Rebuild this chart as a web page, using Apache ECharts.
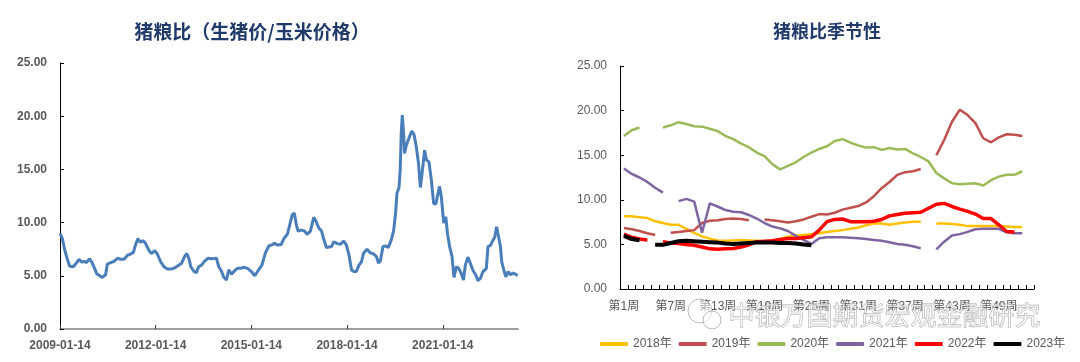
<!DOCTYPE html>
<html>
<head>
<meta charset="utf-8">
<script src="https://cdn.jsdelivr.net/npm/echarts@6/dist/echarts.min.js"></script>
<style>
html,body{margin:0;padding:0;background:#fff;}
#main{width:1080px;height:362px;}
</style>
</head>
<body>
<div id="main"></div>
<script>
// ---------- Left chart: 猪粮比 history ----------
const ratioDates = ['2009-01-14','2009-02-10','2009-03-10','2009-04-10','2009-05-05','2009-06-15','2009-07-20','2009-08-20','2009-09-18','2009-10-18','2009-11-15','2009-12-15',
'2010-01-12','2010-02-14','2010-03-10','2010-04-15','2010-05-13','2010-06-04','2010-06-20','2010-07-10','2010-08-20','2010-09-25','2010-11-03','2010-12-10',
'2011-01-18','2011-02-28','2011-04-04','2011-05-05','2011-05-28','2011-06-26','2011-07-20','2011-08-25','2011-09-20','2011-10-28','2011-11-26',
'2012-01-05','2012-02-03','2012-03-12','2012-04-20','2012-05-27','2012-07-14','2012-08-20','2012-09-25','2012-11-04','2012-12-10',
'2013-01-05','2013-01-28','2013-02-20','2013-03-30','2013-04-25','2013-05-20','2013-06-22','2013-07-30','2013-09-06','2013-10-20','2013-12-10',
'2014-01-06','2014-02-05','2014-03-02','2014-04-03','2014-04-30','2014-06-01','2014-07-08','2014-08-08','2014-09-15','2014-10-20','2014-12-01',
'2015-01-14','2015-02-22','2015-04-06','2015-05-15','2015-06-22','2015-08-01','2015-09-06','2015-10-07','2015-11-08','2015-12-22',
'2016-01-22','2016-03-01','2016-03-27','2016-04-25','2016-05-20','2016-06-12','2016-07-01','2016-08-10','2016-09-15','2016-10-13','2016-11-20','2016-12-28',
'2017-01-20','2017-02-27','2017-03-26','2017-04-20','2017-05-22','2017-06-20','2017-07-20','2017-08-15','2017-09-20','2017-10-28','2017-12-07',
'2018-01-06','2018-02-05','2018-03-06','2018-04-01','2018-05-01','2018-05-30','2018-06-27','2018-07-23','2018-08-30','2018-10-08','2018-11-14','2018-12-17',
'2019-01-08','2019-01-30','2019-03-01','2019-04-01','2019-04-30','2019-06-05','2019-07-01','2019-07-23','2019-08-08','2019-09-01','2019-09-15','2019-09-26','2019-10-08','2019-10-23','2019-11-03','2019-11-24','2019-12-12','2019-12-31',
'2020-01-26','2020-02-20','2020-03-16','2020-04-11','2020-05-02','2020-05-20','2020-06-20','2020-07-10','2020-08-08','2020-09-05','2020-10-01','2020-10-27','2020-11-20','2020-12-08','2020-12-28',
'2021-01-25','2021-02-17','2021-03-08','2021-04-02','2021-04-30','2021-05-22','2021-06-18','2021-07-15','2021-08-14','2021-09-08','2021-09-29','2021-10-28','2021-11-24','2021-12-26',
'2022-01-25','2022-02-20','2022-03-20','2022-04-19','2022-05-28','2022-06-15','2022-07-14','2022-08-12','2022-09-01','2022-09-22','2022-10-10','2022-11-05','2022-11-20','2022-12-15',
'2023-01-06','2023-02-01','2023-03-01','2023-03-30','2023-04-28','2023-05-20'];
const ratioValues = [9.0,8.5,7.4,6.5,5.9,5.85,6.2,6.55,6.3,6.35,6.25,6.6,
6.3,5.7,5.2,5.0,4.85,4.75,5.1,6.1,6.25,6.35,6.65,6.55,
6.55,6.95,7.05,7.2,7.9,8.5,8.15,8.3,8.05,7.4,7.1,
7.35,7.05,6.3,5.85,5.65,5.65,5.75,5.95,6.15,6.8,
7.1,6.65,5.85,5.4,5.3,5.85,6.0,6.4,6.65,6.6,6.65,
5.85,5.45,4.9,4.6,5.55,5.15,5.5,5.7,5.7,5.8,5.7,
5.4,5.0,5.55,6.0,7.1,7.8,7.9,8.05,7.9,7.95,
8.5,8.9,9.75,10.7,10.9,9.8,9.2,9.3,9.2,8.9,9.2,10.5,
10.2,9.45,9.25,8.5,7.65,7.7,7.75,8.2,8.05,7.95,8.25,
7.9,6.95,5.55,5.4,5.4,6.0,6.3,7.15,7.5,7.15,7.05,6.8,
6.2,6.4,7.75,7.8,7.65,8.4,9.25,10.85,12.75,13.3,15.1,18.4,20.1,18.4,16.5,17.3,17.15,18.1,
18.6,18.25,17.15,15.55,13.3,14.5,16.8,15.9,15.7,14.0,11.8,11.75,12.75,13.4,12.45,
9.95,10.55,9.0,7.75,6.8,4.85,5.85,5.7,5.2,4.6,6.0,6.75,6.2,5.5,
5.1,4.55,4.75,5.4,5.7,7.75,7.85,8.35,8.65,9.6,8.85,7.75,6.3,5.5,
4.9,5.4,5.1,5.25,5.15,5.0];
const ratioTickLabels = ['2009-01-14','2012-01-14','2015-01-14','2018-01-14','2021-01-14'];
const ratioStart = '2009-01-14';
const ratioEnd = '2023-05-25';

// ---------- Right chart: seasonal ----------
const weekCategories = Array.from({length: 53}, (_, i) => '第' + (i + 1) + '周');
const seasonYears = ['2018年','2019年','2020年','2021年','2022年','2023年'];
const y2018 = [8.15,8.15,8.05,7.95,7.6,7.4,7.2,7.2,6.75,6.3,5.9,5.65,5.45,5.4,5.45,5.5,5.45,5.4,5.35,5.4,5.6,5.85,6.0,6.05,6.15,6.25,6.4,6.5,6.6,6.75,6.9,7.15,7.35,7.35,7.2,7.35,7.45,7.55,7.55,null,7.35,7.35,7.3,7.2,7.05,7.05,7.05,7.05,7.05,7.0,6.95,6.95];
const y2019 = [6.84,6.7,6.5,6.25,6.05,null,6.3,6.4,6.5,6.6,7.4,7.65,7.7,7.85,7.9,7.85,7.7,null,7.8,7.7,7.6,7.45,7.6,7.8,8.1,8.4,8.35,8.55,8.9,9.1,9.3,9.7,10.4,11.3,12.0,12.8,13.1,13.2,13.45,null,15.0,16.7,18.75,20.1,19.5,18.6,16.9,16.45,17.0,17.35,17.3,17.15];
const y2020 = [17.15,17.8,18.1,null,null,18.1,18.35,18.7,18.5,18.25,18.2,17.97,17.7,17.15,16.8,16.3,15.9,15.3,14.9,14.0,13.4,13.8,14.2,14.8,15.3,15.7,16.0,16.6,16.8,16.4,16.1,15.85,15.9,15.6,15.8,15.65,15.7,15.2,14.8,14.3,13.0,12.4,11.85,11.75,11.8,11.85,11.6,12.2,12.6,12.8,12.8,13.2];
const y2021 = [13.5,12.9,12.5,12.0,11.35,10.8,null,9.85,10.1,9.8,6.3,9.6,9.25,8.85,8.65,8.6,8.3,7.9,7.4,7.0,6.8,6.5,5.95,5.5,5.05,5.7,5.8,5.8,5.8,5.75,5.7,5.6,5.5,5.4,5.25,5.05,4.95,4.8,4.55,null,4.45,5.3,6.0,6.15,6.4,6.7,6.75,6.75,6.75,6.35,6.25,6.25];
const y2022 = [6.15,5.8,5.6,5.5,null,5.3,5.15,5.1,5.0,4.9,4.7,4.5,4.45,4.5,4.55,4.7,4.95,5.3,5.35,5.4,5.55,5.65,5.65,5.75,5.85,6.6,7.55,7.8,7.85,7.55,7.55,7.55,7.6,7.8,8.2,8.35,8.5,8.55,8.6,9.05,9.5,9.6,9.25,8.95,8.7,8.4,7.9,7.9,7.2,6.45,6.4];
const y2023 = [5.95,5.6,5.45,null,4.95,4.95,5.15,5.35,5.4,5.35,5.3,5.25,5.2,5.1,5.05,5.1,5.15,5.2,5.2,5.2,5.15,5.15,5.1,5.0,4.9];
const seasonData = [y2018, y2019, y2020, y2021, y2022, y2023];
const seasonColors = ['#FFC000','#C0504D','#9BBB59','#8064A2','#FF0000','#000000'];
const seasonWidths = [2.5,2.5,2.5,2.5,3.5,4];

const FONT = "'Liberation Sans','Noto Sans CJK SC',sans-serif";
function P(s) { const a = s.split('-').map(Number); return Date.UTC(a[0], a[1] - 1, a[2]); }
function fmtDate(v) {
  const d = new Date(v);
  const p = n => (n < 10 ? '0' : '') + n;
  return d.getUTCFullYear() + '-' + p(d.getUTCMonth() + 1) + '-' + p(d.getUTCDate());
}
const chart = echarts.init(document.getElementById('main'));

const ratioSeriesData = ratioDates.map((d, i) => [P(d), ratioValues[i]]);
const tickVals = ratioTickLabels.map(d => P(d));
const fmt2 = v => v.toFixed(2);

const seasonSeries = seasonYears.map((name, i) => ({
  name: name, type: 'line', xAxisIndex: 1, yAxisIndex: 1,
  data: seasonData[i], showSymbol: false, symbol: 'none', connectNulls: false,
  lineStyle: {color: seasonColors[i], width: seasonWidths[i]},
  itemStyle: {color: seasonColors[i]}
}));

chart.setOption({
  animation: false,
  textStyle: {fontFamily: FONT},
  title: [
    {text: '猪粮比（生猪价/玉米价格）', left: 247, top: 17, textAlign: 'center',
     textStyle: {fontSize: 19, fontWeight: 'bold', color: '#1F3A6B', fontFamily: "'Noto Sans CJK SC',sans-serif"}},
    {text: '猪粮比季节性', left: 822, top: 17, textAlign: 'center',
     textStyle: {fontSize: 18, fontWeight: 'bold', color: '#1F3A6B', fontFamily: "'Noto Sans CJK SC',sans-serif"}}
  ],
  legend: {
    data: seasonYears, left: 595, top: 333, itemWidth: 28, itemHeight: 4, itemGap: 7,
    icon: 'roundRect', textStyle: {color: '#595959', fontSize: 12, fontFamily: FONT}
  },
  grid: [
    {left: 60, top: 63, width: 458, height: 266},
    {left: 620, top: 66, width: 414, height: 223}
  ],
  xAxis: [
    {type: 'value', gridIndex: 0, min: P(ratioStart), max: P(ratioEnd), scale: true,
     axisLine: {lineStyle: {color: '#7F7F7F', width: 1.5}},
     axisTick: {show: true, inside: true, length: 4, customValues: tickVals, lineStyle: {color: '#404040'}},
     axisLabel: {customValues: tickVals, color: '#595959', fontSize: 12, fontWeight: 'bold', margin: 11,
       formatter: v => fmtDate(v)},
     splitLine: {show: false}},
    {type: 'category', gridIndex: 1, data: weekCategories, boundaryGap: true,
     axisLine: {lineStyle: {color: '#000', width: 1}},
     axisTick: {show: true, inside: true, length: 4, interval: 0, lineStyle: {color: '#000'}},
     axisLabel: {interval: 5, color: '#595959', fontSize: 12, margin: 12},
     splitLine: {show: false}}
  ],
  yAxis: [
    {type: 'value', gridIndex: 0, min: 0, max: 25, interval: 5,
     axisLine: {show: true, lineStyle: {color: '#000', width: 1}},
     axisTick: {show: true, inside: true, length: 4, lineStyle: {color: '#000'}},
     axisLabel: {formatter: fmt2, color: '#595959', fontSize: 12, fontWeight: 'bold', margin: 13},
     splitLine: {show: false}},
    {type: 'value', gridIndex: 1, min: 0, max: 25, interval: 5,
     axisLine: {show: true, lineStyle: {color: '#000', width: 1}},
     axisTick: {show: true, inside: true, length: 4, lineStyle: {color: '#000'}},
     axisLabel: {formatter: fmt2, color: '#595959', fontSize: 12, margin: 13},
     splitLine: {show: false}}
  ],
  series: [
    {name: '猪粮比', type: 'line', xAxisIndex: 0, yAxisIndex: 0, data: ratioSeriesData,
     showSymbol: false, symbol: 'none', lineStyle: {color: '#4A7EBB', width: 3}, itemStyle: {color: '#4A7EBB'}}
  ].concat(seasonSeries),
  graphic: [
    {type: 'circle', shape: {cx: 700, cy: 311, r: 12}, z: 100,
     style: {fill: 'rgba(255,255,255,0.5)', stroke: 'rgba(140,140,140,0.6)', lineWidth: 1}},
    {type: 'circle', shape: {cx: 712, cy: 320, r: 9}, z: 100,
     style: {fill: 'rgba(255,255,255,0.5)', stroke: 'rgba(140,140,140,0.6)', lineWidth: 1}},
    {type: 'text', left: 728, top: 302, z: 100,
     style: {text: '中银万国期货宏观金融研究', font: "26px 'Noto Sans CJK SC',sans-serif",
       fill: 'rgba(255,255,255,0.55)', stroke: 'rgba(130,130,130,0.7)', lineWidth: 0.8}}
  ]
});
</script>
</body>
</html>
